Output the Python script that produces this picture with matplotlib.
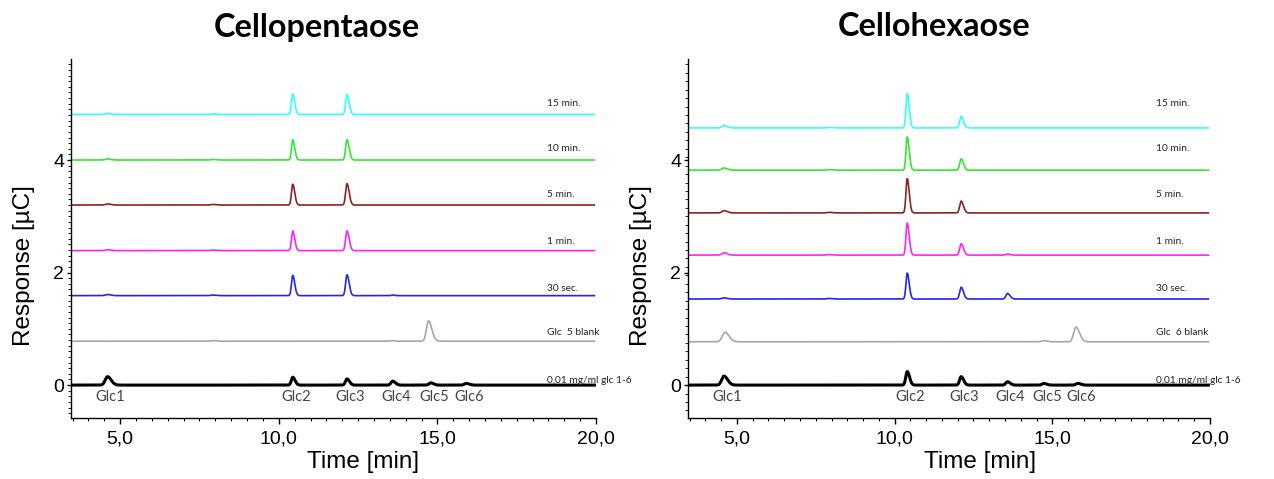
import numpy as np
import matplotlib
matplotlib.use("Agg")
import matplotlib.pyplot as plt
from matplotlib.ticker import MultipleLocator, FixedLocator, FuncFormatter

# ---------------------------------------------------------------- data
PANEL_TITLES = ["Cellopentaose", "Cellohexaose"]

TRACE_NAMES_PENTA = ["0,01 mg/ml glc 1-6", "Glc  5 blank", "30 sec.", "1 min.",
                     "5 min.", "10 min.", "15 min."]
TRACE_NAMES_HEXA = ["0,01 mg/ml glc 1-6", "Glc  6 blank", "30 sec.", "1 min.",
                    "5 min.", "10 min.", "15 min."]
TRACE_COLORS = ["#000000", "#a6a6a6", "#2424ee", "#ff22ff", "#8b2222",
                "#33e633", "#33ffff"]

# vertical offset of each trace (µC)
BASELINES_PENTA = [0.00, 0.78, 1.59, 2.39, 3.20, 4.00, 4.81]
BASELINES_HEXA = [0.00, 0.77, 1.53, 2.31, 3.06, 3.82, 4.57]

# standard peaks
STANDARD_NAMES = ["Glc1", "Glc2", "Glc3", "Glc4", "Glc5", "Glc6"]
STANDARD_TIMES_PENTA = [4.60, 10.44, 12.15, 13.59, 14.79, 15.91]
STANDARD_TIMES_HEXA = [4.59, 10.40, 12.11, 13.58, 14.73, 15.81]

# peaks of every trace: retention time (min), height (µC), FWHM (min)
PEAK_TIMES_PENTA = [
    [4.60, 10.44, 12.15, 13.59, 14.79, 15.91],
    [7.92, 13.55, 14.72],
    [4.60, 7.92, 10.44, 12.15, 13.59],
    [4.60, 7.92, 10.44, 12.15],
    [4.60, 7.92, 10.44, 12.15],
    [4.60, 7.92, 10.44, 12.15],
    [4.60, 7.92, 10.44, 12.15],
]
PEAK_HEIGHTS_PENTA = [
    [0.15, 0.14, 0.11, 0.07, 0.04, 0.03],
    [0.01, 0.01, 0.36],
    [0.02, 0.01, 0.36, 0.37, 0.01],
    [0.015, 0.01, 0.35, 0.35],
    [0.02, 0.01, 0.37, 0.38],
    [0.02, 0.01, 0.36, 0.36],
    [0.02, 0.01, 0.36, 0.35],
]
PEAK_FWHM_PENTA = [
    [0.22, 0.14, 0.15, 0.16, 0.17, 0.18],
    [0.20, 0.15, 0.20],
    [0.20, 0.20, 0.12, 0.13, 0.12],
    [0.20, 0.20, 0.12, 0.13],
    [0.20, 0.20, 0.12, 0.13],
    [0.20, 0.20, 0.12, 0.13],
    [0.20, 0.20, 0.12, 0.13],
]

PEAK_TIMES_HEXA = [
    [4.59, 10.40, 12.11, 13.58, 14.73, 15.81],
    [4.62, 14.73, 15.75],
    [4.59, 7.92, 10.40, 12.11, 13.58],
    [4.59, 7.92, 10.40, 12.11, 13.58],
    [4.59, 7.92, 10.40, 12.11],
    [4.59, 7.92, 10.40, 12.11],
    [4.59, 7.92, 10.40, 12.11],
]
PEAK_HEIGHTS_HEXA = [
    [0.16, 0.24, 0.15, 0.06, 0.03, 0.03],
    [0.17, 0.02, 0.26],
    [0.02, 0.01, 0.46, 0.21, 0.10],
    [0.04, 0.01, 0.57, 0.20, 0.02],
    [0.04, 0.01, 0.61, 0.21],
    [0.04, 0.01, 0.59, 0.20],
    [0.04, 0.01, 0.61, 0.21],
]
PEAK_FWHM_HEXA = [
    [0.22, 0.14, 0.15, 0.16, 0.17, 0.18],
    [0.25, 0.20, 0.22],
    [0.20, 0.20, 0.12, 0.14, 0.15],
    [0.20, 0.20, 0.12, 0.14, 0.15],
    [0.20, 0.20, 0.12, 0.14],
    [0.20, 0.20, 0.12, 0.14],
    [0.20, 0.20, 0.12, 0.14],
]

X_TICKS = [5.0, 10.0, 15.0, 20.0]
Y_TICKS = [0, 2, 4]

# ---------------------------------------------------------------- helpers
TIME = np.linspace(3.45, 19.95, 5000)
TAIL = 1.6  # right-hand sigma relative to left-hand sigma


def chromatogram(times, heights, fwhm):
    signal = np.zeros_like(TIME)
    for tr, h, w in zip(times, heights, fwhm):
        s_total = w / 2.3548
        s_left = 2 * s_total / (1 + TAIL)
        s_right = s_left * TAIL
        s = np.where(TIME < tr, s_left, s_right)
        signal += h * np.exp(-0.5 * ((TIME - tr) / s) ** 2)
    return signal


W, H = 1274, 479
fig = plt.figure(figsize=(W / 100, H / 100), dpi=100)

LABEL_LEVELS = [0.09, 0.94, 1.72, 2.55, 3.38, 4.21, 5.00]
LINE_WIDTHS = [2.2, 1.2, 1.2, 1.2, 1.2, 1.2, 1.2]

panels = [
    dict(left=71, width=525, title_x=317, ylabel_x=24, xlabel_x=363,
         names=TRACE_NAMES_PENTA, base=BASELINES_PENTA, std=STANDARD_TIMES_PENTA,
         pt=PEAK_TIMES_PENTA, ph=PEAK_HEIGHTS_PENTA, pw=PEAK_FWHM_PENTA,
         label_x=18.45, yminor=0.1),
    dict(left=688, width=522, title_x=934, ylabel_x=641, xlabel_x=980,
         names=TRACE_NAMES_HEXA, base=BASELINES_HEXA, std=STANDARD_TIMES_HEXA,
         pt=PEAK_TIMES_HEXA, ph=PEAK_HEIGHTS_HEXA, pw=PEAK_FWHM_HEXA,
         label_x=18.30, yminor=0.15),
]

top_px, bottom_px = 59.3, 418.3
for p, title in zip(panels, PANEL_TITLES):
    ax = fig.add_axes([p["left"] / W, 1 - bottom_px / H, p["width"] / W,
                       (bottom_px - top_px) / H])
    ax.set_xlim(3.45, 20.0)
    ax.set_ylim(-0.59, 5.79)

    for i in range(len(p["names"])):
        y = p["base"][i] + chromatogram(p["pt"][i], p["ph"][i], p["pw"][i])
        ax.plot(TIME, y, color=TRACE_COLORS[i], lw=LINE_WIDTHS[i],
                solid_joinstyle="round", zorder=3 if i == 0 else 2)
        ax.text(p["label_x"], LABEL_LEVELS[i], p["names"][i], fontsize=7.3,
                family="Lato", color="#222222", ha="left", va="center")

    for name, t in zip(STANDARD_NAMES, p["std"]):
        ax.text(t + 0.1, -0.21, name, fontsize=10.5, family="Lato",
                color="#444444", ha="center", va="center")

    for side in ("top", "right"):
        ax.spines[side].set_visible(False)
    ax.spines["left"].set_linewidth(1.0)
    ax.spines["bottom"].set_linewidth(1.0)

    ax.xaxis.set_major_locator(FixedLocator(X_TICKS))
    ax.xaxis.set_minor_locator(MultipleLocator(0.5))
    ax.xaxis.set_major_formatter(FuncFormatter(lambda v, _: f"{v:.1f}".replace(".", ",")))
    ax.yaxis.set_major_locator(FixedLocator(Y_TICKS))
    ax.yaxis.set_minor_locator(MultipleLocator(p["yminor"]))
    ax.tick_params(axis="x", which="major", length=4, width=1, pad=5,
                   labelsize=14)
    ax.tick_params(axis="x", which="minor", length=2.5, width=0.8)
    ax.tick_params(axis="y", which="major", length=3, width=1, pad=2,
                   labelsize=14)
    ax.tick_params(axis="y", which="minor", length=2, width=0.6)
    for lab in ax.get_xticklabels() + ax.get_yticklabels():
        lab.set_family("Liberation Sans")

    fig.text(p["title_x"] / W, 1 - 27 / H, title, fontsize=23.3,
             fontweight="bold", family="Lato", ha="center", va="center")
    fig.text(p["ylabel_x"] / W, 1 - 266 / H, "Response [µC]", rotation=90,
             fontsize=17.5, family="Liberation Sans", ha="center", va="center")
    fig.text(p["xlabel_x"] / W, 1 - 462 / H, "Time [min]", fontsize=17.5,
             family="Liberation Sans", ha="center", va="center")

fig.savefig("out.png", dpi=100)
